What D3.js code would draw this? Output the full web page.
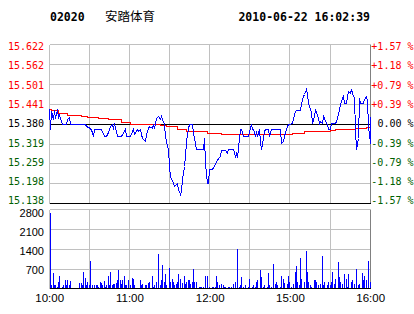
<!doctype html>
<html lang="zh">
<head>
<meta charset="UTF-8">
<title>02020 安踏体育</title>
<style>
    body { margin: 0; background: #fff; }
    svg { display: block; }
</style>
</head>
<body>
<div class="canvas"></div>
<script src="https://d3js.org/d3.v7.min.js"></script>
<script>
    // header
    const stockCode = '02020';
    const stockName = '安踏体育';
    const stamp = '2010-06-22 16:02:39';
    const prevClose = 15.380;

    // axis ticks
    const priceTicks = [15.138, 15.198, 15.259, 15.319, 15.380, 15.441, 15.501, 15.562, 15.622];
    const pctLabels = ['-1.57', '-1.18', '-0.79', '-0.39', '0.00', '+0.39', '+0.79', '+1.18', '+1.57'];
    const volTicks = [700, 1400, 2100, 2800];
    const timeLabels = ['10:00', '11:00', '12:00', '15:00', '16:00'];
    const timeLabelMinutes = [0, 60, 120, 180, 240];
    const gridMinutes = [0, 30, 60, 90, 120, 150, 180, 210, 240];

    // minute prices (minutes since 10:00, lunch break removed)
    const priceMinutes = [0, 1, 2, 3, 4, 5, 6, 7, 8, 9, 10, 13, 14, 15, 16, 27,
        28, 31, 32, 33, 34, 39, 41, 43, 44, 46, 47, 48, 49, 51, 54, 56, 57, 58, 61, 62, 63, 64, 66, 67, 68, 69,
        70, 72, 73, 74, 75, 77, 78, 79, 80, 82, 83, 84, 85, 86, 87, 88, 89, 90, 91, 93, 94, 96, 97, 98, 99,
        100, 101, 102, 103, 104, 105, 107, 108, 109, 110, 115, 116, 117, 118, 119, 120, 122, 124, 125, 127, 128, 129,
        132, 133, 134, 135, 138, 139, 140, 141, 142, 143, 144, 145, 149, 150, 151, 152, 153, 154, 155, 156, 157, 158, 159,
        160, 161, 162, 164, 165, 166, 173, 174, 175, 176, 177, 178, 179,
        180, 182, 183, 184, 185, 188, 189, 190, 191, 192, 193, 194, 195, 196, 197, 198, 199,
        200, 201, 202, 203, 204, 205, 206, 207, 208, 209, 210, 211, 214, 215, 216, 217, 218, 219,
        220, 221, 222, 223, 224, 225, 226, 227, 228, 229, 230, 231, 232, 233, 235, 236, 237, 238, 239, 240, 240];
    const prices = [15.424, 15.363, 15.418, 15.393, 15.420, 15.398, 15.424, 15.398, 15.405, 15.387, 15.380, 15.380, 15.393, 15.401, 15.380, 15.380,
        15.373, 15.368, 15.353, 15.342, 15.363, 15.363, 15.342, 15.342, 15.353, 15.373, 15.378, 15.363, 15.381, 15.342, 15.342, 15.357, 15.363, 15.342, 15.342, 15.357, 15.363, 15.347, 15.363, 15.357, 15.363, 15.347,
        15.337, 15.327, 15.347, 15.368, 15.373, 15.368, 15.378, 15.368, 15.398, 15.403, 15.393, 15.403, 15.393, 15.378, 15.342, 15.327, 15.302, 15.251, 15.221, 15.200, 15.190, 15.200, 15.180, 15.165, 15.175,
        15.210, 15.251, 15.281, 15.327, 15.368, 15.378, 15.378, 15.353, 15.337, 15.302, 15.302, 15.337, 15.261, 15.200, 15.200, 15.241, 15.241, 15.256, 15.266, 15.277, 15.281, 15.300,
        15.300, 15.292, 15.302, 15.302, 15.302, 15.281, 15.292, 15.277, 15.337, 15.363, 15.363, 15.342, 15.342, 15.357, 15.380, 15.363, 15.363, 15.342, 15.357, 15.342, 15.363, 15.327, 15.302,
        15.337, 15.357, 15.363, 15.363, 15.342, 15.363, 15.363, 15.322, 15.327, 15.342, 15.353, 15.373, 15.380,
        15.378, 15.381, 15.398, 15.418, 15.421, 15.421, 15.444, 15.464, 15.469, 15.484, 15.474, 15.444, 15.424, 15.414, 15.383, 15.403, 15.424,
        15.414, 15.398, 15.383, 15.388, 15.383, 15.403, 15.398, 15.383, 15.378, 15.363, 15.363, 15.383, 15.383, 15.388, 15.408, 15.424, 15.439, 15.459,
        15.464, 15.444, 15.442, 15.464, 15.479, 15.474, 15.484, 15.474, 15.459, 15.363, 15.302, 15.337, 15.459, 15.442, 15.442, 15.454, 15.464, 15.449, 15.373, 15.322, 15.403];

    // average price
    const avgMinutes = [0, 2, 7, 14, 24, 29, 37, 44, 54, 61, 81, 83, 88, 96, 103, 118, 129, 135, 179, 182, 191, 210, 214, 229, 237, 240];
    const avgPrices = [15.424, 15.420, 15.413, 15.407, 15.403, 15.399, 15.396, 15.393, 15.384, 15.380, 15.380, 15.376, 15.373, 15.364, 15.358,
        15.352, 15.349, 15.347, 15.347, 15.352, 15.357, 15.360, 15.363, 15.366, 15.369, 15.370];

    // volume per minute
    const volMinutes = [1, 2, 3, 4, 5, 6, 7, 8, 10, 11, 12, 13, 14, 15, 16, 23, 24, 25, 26, 27, 28, 29, 30, 31, 32, 34, 35, 36, 37, 38, 39,
        40, 41, 42, 43, 44, 45, 46, 47, 48, 49, 50, 51, 52, 53, 54, 55, 56, 57, 58, 59, 61, 62, 63, 64, 68, 69,
        70, 72, 73, 74, 75, 77, 78, 79, 80, 82, 83, 84, 85, 86, 87, 88, 90, 91, 92, 93, 94, 95, 96, 97, 98,
        100, 101, 102, 103, 104, 105, 106, 107, 108, 109, 110, 112, 113, 114, 115, 117, 118, 120, 122, 123, 124, 125, 126, 127, 129,
        130, 131, 132, 134, 135, 136, 138, 139, 141, 142, 143, 144, 145, 147, 149, 150, 152, 153, 154, 155, 156, 158, 159,
        160, 161, 163, 164, 165, 166, 168, 169, 170, 171, 173, 174, 175, 176, 178, 179, 180, 181, 183, 184, 185, 186, 187, 188, 189,
        191, 192, 193, 194, 195, 196, 198, 199, 200, 201, 203, 204, 205, 206, 208, 209, 210, 211, 212, 213, 214, 216, 217, 218, 219,
        221, 222, 223, 224, 226, 227, 228, 230, 231, 232, 234, 235, 236, 237, 239, 240];
    const volumes = [2680, 120, 560, 120, 120, 80, 260, 440, 80, 140, 330, 120, 330, 120, 270, 200, 200, 120, 610, 380, 120, 240, 120, 970, 120, 120, 120, 120, 80, 260, 220,
        120, 270, 80, 120, 440, 120, 610, 120, 180, 180, 200, 300, 650, 320, 180, 320, 440, 120, 120, 330, 120, 390, 350, 120, 300, 120,
        180, 120, 120, 200, 240, 440, 80, 150, 240, 1220, 120, 330, 830, 240, 510, 120, 720, 240, 350, 240, 120, 180, 240, 510, 350,
        200, 440, 180, 240, 330, 330, 180, 240, 710, 240, 260, 80, 80, 80, 80, 470, 440, 80, 80, 80, 80, 440, 260, 120, 180,
        120, 80, 80, 80, 80, 80, 180, 260, 1420, 80, 120, 410, 80, 120, 80, 350, 80, 120, 80, 260, 330, 650, 410,
        80, 120, 80, 560, 120, 80, 860, 180, 240, 120, 80, 440, 350, 200, 180, 470, 240, 80, 180, 610, 790, 240, 120, 1100, 350,
        240, 1320, 610, 260, 120, 80, 300, 300, 260, 120, 180, 1150, 120, 240, 120, 260, 120, 240, 590, 180, 350, 950, 410, 240, 180,
        510, 350, 80, 510, 240, 320, 180, 690, 120, 180, 560, 300, 440, 300, 970, 260];

    const svgWidth = 414;
    const svgHeight = 314;
    const gridColor = '#c0c0c0';
    const edgeColor = '#808080';
    const upColor = '#ff0000';
    const downColor = '#006000';
    const monoFont = '"DejaVu Sans Mono", monospace';
    const sansFont = '"Liberation Sans", Arial, sans-serif';

    const svg = d3.select('.canvas').append('svg')
        .attr('width', svgWidth)
        .attr('height', svgHeight)
    ;

    const x = d3.scaleLinear().domain([0, 240]).range([49.2, 370.2]);
    const y = d3.scaleLinear().domain([priceTicks[0], priceTicks[priceTicks.length - 1]]).range([203.6, 44.6]);
    const yv = d3.scaleLinear().domain([0, 2800]).range([288.9, 209.3]);
    // tick labels sit a little inside the gridlines, like the original
    const yLabel = d3.scaleLinear().domain(y.domain()).range([200.5, 46.7]);
    const yvLabel = d3.scaleLinear().domain([700, 2800]).range([270, 213.3]);

    const crisp = v => Math.floor(v) + 0.5;
    const left = crisp(x(0));
    const right = crisp(x(240));

    // header
    svg.append('text')
        .attr('x', 50).attr('y', 21)
        .attr('font-family', monoFont).attr('font-weight', 'bold').attr('font-size', 11.5)
        .text(stockCode);
    svg.append('text')
        .attr('x', 105).attr('y', 21)
        .attr('font-family', '"Noto Sans CJK SC", sans-serif').attr('font-size', 12.5)
        .text(stockName);
    svg.append('text')
        .attr('x', 370).attr('y', 21).attr('text-anchor', 'end')
        .attr('font-family', monoFont).attr('font-weight', 'bold').attr('font-size', 11.5)
        .text(stamp);

    const grid = svg.append('g').attr('shape-rendering', 'crispEdges');
    const lastGrid = gridMinutes.length - 1;

    // price panel grid
    grid.selectAll('.hp').data(priceTicks).enter().append('line')
        .attr('x1', left).attr('x2', right)
        .attr('y1', d => crisp(y(d))).attr('y2', d => crisp(y(d)))
        .attr('stroke', gridColor);
    grid.selectAll('.vp').data(gridMinutes).enter().append('line')
        .attr('x1', d => crisp(x(d))).attr('x2', d => crisp(x(d)))
        .attr('y1', crisp(y(priceTicks[8]))).attr('y2', crisp(y(priceTicks[0])))
        .attr('stroke', (d, i) => i === lastGrid ? edgeColor : gridColor);

    // volume panel grid
    grid.selectAll('.hv').data(volTicks).enter().append('line')
        .attr('x1', left).attr('x2', right)
        .attr('y1', d => crisp(yv(d))).attr('y2', d => crisp(yv(d)))
        .attr('stroke', gridColor);
    grid.selectAll('.vv').data(gridMinutes).enter().append('line')
        .attr('x1', d => crisp(x(d))).attr('x2', d => crisp(x(d)))
        .attr('y1', crisp(yv(2800))).attr('y2', crisp(yv(0)))
        .attr('stroke', (d, i) => i === lastGrid ? edgeColor : gridColor);

    // black reference lines: price floor and previous close
    [y(priceTicks[0]), y(prevClose)].forEach(v => {
        grid.append('line')
            .attr('x1', left).attr('x2', right)
            .attr('y1', crisp(v)).attr('y2', crisp(v))
            .attr('stroke', '#000');
    });

    // average line, then price line
    const avgData = avgMinutes.map((m, i) => [m, avgPrices[i]]);
    const priceData = priceMinutes.map((m, i) => [m, prices[i]]);

    svg.append('path')
        .attr('d', d3.line().curve(d3.curveStepAfter).x(d => crisp(x(d[0]))).y(d => crisp(y(d[1])))(avgData))
        .attr('fill', 'none').attr('stroke', upColor).attr('stroke-width', 1)
        .attr('shape-rendering', 'crispEdges');
    svg.append('path')
        .attr('d', d3.line().x(d => crisp(x(d[0]))).y(d => crisp(y(d[1])))(priceData))
        .attr('fill', 'none').attr('stroke', '#0000ff').attr('stroke-width', 1)
        .attr('shape-rendering', 'crispEdges');

    // volume bars
    const volData = volMinutes.map((m, i) => ({ m, v: volumes[i] }));
    svg.append('g').attr('shape-rendering', 'crispEdges')
        .selectAll('rect').data(volData).enter().append('rect')
        .attr('x', d => Math.floor(x(d.m)))
        .attr('y', d => Math.round(yv(d.v)))
        .attr('width', 1)
        .attr('height', d => Math.floor(yv(0)) - Math.round(yv(d.v)))
        .attr('fill', '#0000ff');

    // volume baseline over the bars
    svg.append('line')
        .attr('x1', left).attr('x2', right)
        .attr('y1', crisp(yv(0))).attr('y2', crisp(yv(0)))
        .attr('stroke', '#000').attr('shape-rendering', 'crispEdges');

    // left price labels
    const tickColor = (i) => i > 4 ? upColor : (i < 4 ? downColor : '#000');
    svg.append('g').selectAll('text').data(priceTicks).enter().append('text')
        .attr('x', 44).attr('y', d => yLabel(d))
        .attr('dy', '0.36em')
        .attr('text-anchor', 'end')
        .attr('font-family', monoFont).attr('font-size', 10)
        .attr('fill', (d, i) => tickColor(i))
        .text(d => d.toFixed(3));

    // right percent labels
    svg.append('g').selectAll('text').data(pctLabels).enter().append('text')
        .attr('x', 413.5).attr('y', (d, i) => yLabel(priceTicks[i]))
        .attr('dy', '0.36em')
        .attr('text-anchor', 'end')
        .attr('font-family', monoFont).attr('font-size', 10)
        .attr('fill', (d, i) => tickColor(i))
        .text(d => d + ' %');

    // volume labels
    svg.append('g').selectAll('text').data(volTicks).enter().append('text')
        .attr('x', 44).attr('y', d => yvLabel(d))
        .attr('dy', '0.36em')
        .attr('text-anchor', 'end')
        .attr('font-family', sansFont).attr('font-size', 11)
        .text(d => d);

    // time labels
    svg.append('g').selectAll('text').data(timeLabels).enter().append('text')
        .attr('x', (d, i) => x(timeLabelMinutes[i]) + 0.5).attr('y', 298.3)
        .attr('dy', '0.36em')
        .attr('text-anchor', 'middle')
        .attr('font-family', sansFont).attr('font-size', 11.5)
        .text(d => d);
</script>
</body>
</html>
